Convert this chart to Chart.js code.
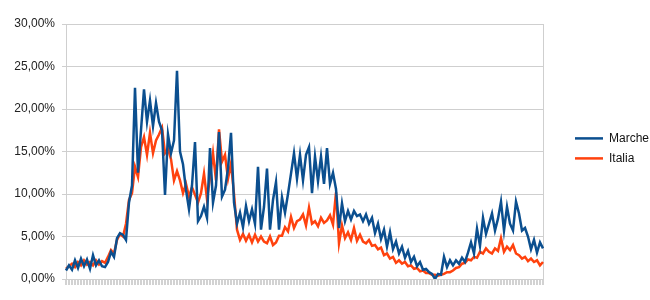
<!DOCTYPE html>
<html lang="it">
<head>
    <meta charset="UTF-8">
    <title>Marche vs Italia</title>
    <script src="https://cdn.jsdelivr.net/npm/chart.js"></script>
    <style>
        body { margin: 0; background: #fff; }
        #wrap { width: 650px; height: 300px; }
    </style>
</head>
<body>
    <div id="wrap"><canvas id="Chart1"></canvas></div>

    <script>
        // percentuale positivi, valori
        const marche = [
            1.0, 1.6, 1.1, 2.2, 1.3, 2.4, 1.5, 2.3, 1.2, 2.8,
            1.6, 2.2, 1.5, 1.4, 2.0, 3.2, 2.6, 4.8, 5.4, 5.2,
            4.6, 9.0, 11.0, 22.5, 12.5, 17.5, 22.3, 18.5, 21.0, 18.0,
            20.7, 18.5, 17.5, 9.9, 17.0, 14.8, 16.3, 24.5, 15.0, 13.5,
            10.5, 8.2, 11.0, 16.1, 6.8, 7.4, 8.5, 7.2, 15.4, 9.0,
            11.0, 17.3, 9.7, 10.5, 13.0, 17.2, 9.0, 6.5, 7.8, 6.1,
            8.6, 6.8, 8.2, 6.5, 13.2, 5.8, 8.5, 13.0, 5.8, 9.3,
            11.4, 5.8, 9.6, 7.8, 10.0, 12.4, 14.8, 11.8, 14.6, 11.6,
            14.6, 15.5, 10.1, 14.4, 11.5, 14.4, 11.2, 15.4, 11.2, 12.5,
            10.6, 6.0, 8.9, 6.8, 8.0, 7.0, 8.0, 7.4, 7.6, 6.8,
            7.6, 6.5, 7.2, 5.4, 6.5, 4.7, 5.8, 3.8, 5.5, 3.5,
            4.4, 3.0, 3.8, 2.5, 3.3, 2.0, 2.6, 1.5, 2.0, 1.1,
            1.2, 0.8, 0.6, 0.0, 0.6, 0.5, 2.6, 1.4, 2.2, 1.6,
            2.2, 1.8, 2.5, 2.0, 3.1, 4.3, 3.0, 5.9, 3.9, 7.2,
            5.3, 6.5, 7.7, 5.7, 7.1, 9.1, 5.7, 8.5, 6.5, 5.7,
            9.1, 7.7, 5.7, 6.0, 5.0, 3.5, 4.6, 3.1, 4.3, 3.6
        ];
        const italia = [
            1.2, 1.5, 1.8, 1.4, 2.0, 1.6, 2.2, 1.7, 2.0, 1.6,
            2.2, 1.7, 2.1, 1.9, 2.6, 3.4, 3.0, 4.6, 5.3, 5.0,
            6.5, 9.3, 10.1, 13.2, 12.0, 15.5, 16.7, 14.6, 17.2, 14.8,
            16.3, 17.0, 17.8, 14.8, 15.3, 14.1, 11.6, 12.7, 11.6, 10.1,
            11.2, 9.7, 10.8, 9.9, 9.0, 10.1, 12.4, 9.4, 12.0, 14.8,
            11.6, 17.6, 13.8, 14.6, 11.8, 13.6, 10.0, 5.8, 4.6, 5.3,
            4.5, 5.2, 4.3, 5.2, 4.4, 5.0, 4.4, 4.2, 5.0, 4.0,
            4.3, 5.1, 5.1, 6.1, 5.6, 7.3, 6.0, 6.8, 7.0, 7.6,
            6.3, 8.4, 6.5, 6.8, 6.2, 7.2, 6.6, 6.9, 7.5, 6.4,
            10.2, 4.2, 6.3, 4.8, 5.5, 4.6, 6.0, 4.5, 5.2, 4.4,
            4.2, 4.6, 3.9, 4.0, 3.5, 3.7, 2.8, 3.0, 2.4, 2.6,
            1.9, 2.2, 1.8, 2.0, 1.5, 1.6, 1.2, 1.3, 0.9, 1.0,
            0.7, 0.7, 0.5, 0.5, 0.4, 0.5, 0.6, 0.8, 0.8, 1.0,
            1.3, 1.4, 1.8, 1.9, 2.3, 2.2, 2.6, 2.5, 3.2, 3.0,
            3.6, 3.2, 3.0, 3.6, 3.3, 4.8, 3.2, 3.8, 3.4, 4.0,
            3.0, 2.8, 2.4, 2.6, 2.1, 2.4, 2.0, 2.2, 1.6, 2.0
        ];
        const giorni = marche.map((_, i) => String(i + 1));

        const grigio = '#cfcfcf';
        Chart.defaults.font.family = '"Liberation Sans", Arial, sans-serif';
        Chart.defaults.font.size = 12;
        Chart.defaults.color = '#222';

        const ctx = document.getElementById('Chart1').getContext('2d');
        const chart = new Chart(ctx, {
            type: 'line',
            data: {
                labels: giorni,
                datasets: [{
                    label: 'Marche',
                    data: marche,
                    borderColor: '#0b4f8f',
                    backgroundColor: '#0b4f8f',
                    borderWidth: 2.5,
                    pointRadius: 0,
                }, {
                    label: 'Italia',
                    data: italia,
                    borderColor: '#ff420e',
                    backgroundColor: '#ff420e',
                    borderWidth: 2.5,
                    pointRadius: 0,
                }]
            },
            options: {
                responsive: true,
                maintainAspectRatio: false,
                animation: false,
                layout: {
                    padding: { top: 24, left: 10, right: 0, bottom: 15 }
                },
                plugins: {
                    tooltip: { enabled: false },
                    legend: {
                        position: 'right',
                        align: 'start',
                        maxWidth: 83,
                        // titolo vuoto solo per spostare le voci in basso
                        title: { display: true, text: '', padding: { top: 86, bottom: 0 } },
                        labels: {
                            usePointStyle: true,
                            pointStyle: 'line',
                            pointStyleWidth: 28,
                            padding: 8,
                            color: '#111'
                        }
                    }
                },
                scales: {
                    x: {
                        ticks: { display: false },
                        grid: {
                            drawOnChartArea: false,
                            tickLength: 6,
                            lineWidth: 2,
                            color: '#d2d2d2'
                        },
                        border: { display: false }
                    },
                    y: {
                        min: 0,
                        max: 30,
                        ticks: {
                            stepSize: 5,
                            padding: 7,
                            callback: v => v.toFixed(2).replace('.', ',') + '%'
                        },
                        grid: { color: grigio, tickLength: 4 },
                        border: { color: grigio },
                        afterFit: s => { s.width = 56; }
                    },
                    destra: {
                        position: 'right',
                        min: 0,
                        max: 30,
                        ticks: { display: false },
                        grid: { display: false, drawTicks: false },
                        border: { color: grigio },
                        afterFit: s => { s.width = 24; }
                    }
                }
            }
        });
    </script>
</body>
</html>
